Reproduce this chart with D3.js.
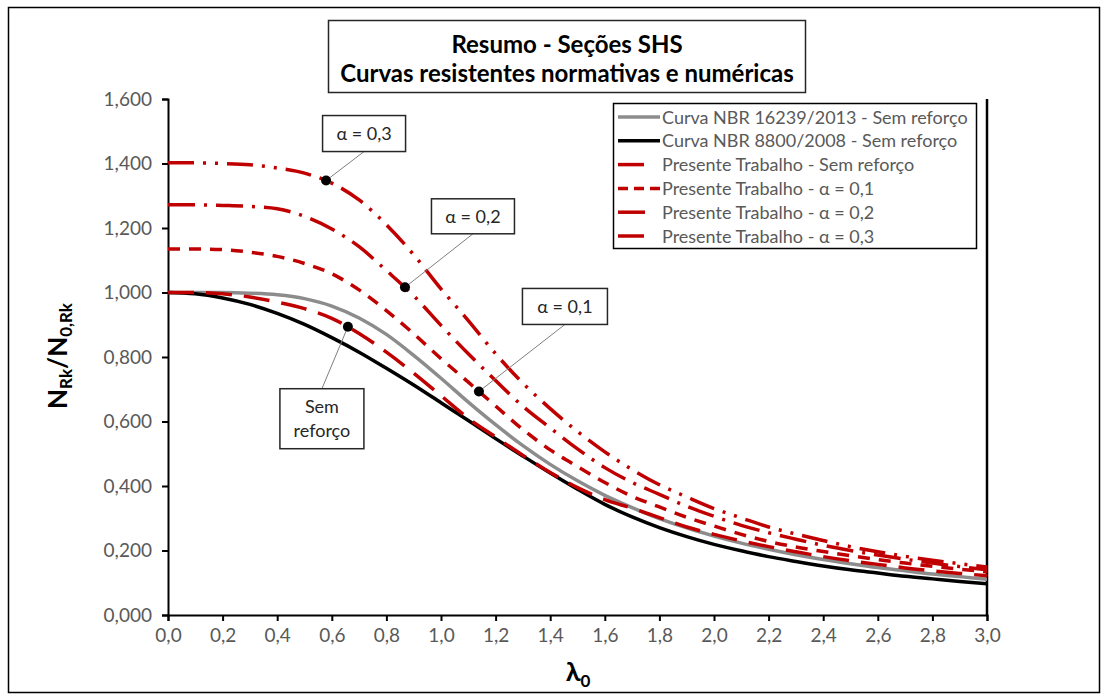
<!DOCTYPE html>
<html>
<head>
<meta charset="utf-8">
<script src="https://cdn.jsdelivr.net/npm/d3@7"></script>
<style>
  html, body { margin: 0; padding: 0; background: #fff; }
  svg { display: block; font-family: Lato, "Open Sans", sans-serif; }
</style>
</head>
<body>
<svg id="chart" width="1108" height="699"></svg>
<script>
// Slenderness values (x) shared by every curve
const lambda0 = [0.0, 0.1, 0.2, 0.3, 0.4, 0.5, 0.6, 0.7, 0.8, 0.9, 1.0,
                 1.1, 1.2, 1.3, 1.4, 1.5, 1.6, 1.7, 1.8, 1.9, 2.0,
                 2.1, 2.2, 2.3, 2.4, 2.5, 2.6, 2.7, 2.8, 2.9, 3.0];

// Normative curves
const nbr16239 = [1.000, 1.000, 1.000, 0.998, 0.993, 0.981, 0.958, 0.921, 0.870, 0.805, 0.734,
                  0.660, 0.590, 0.525, 0.467, 0.416, 0.371, 0.333, 0.299, 0.270, 0.245,
                  0.223, 0.204, 0.187, 0.172, 0.159, 0.147, 0.137, 0.127, 0.119, 0.111];
const nbr8800  = [1.000, 0.996, 0.983, 0.963, 0.935, 0.901, 0.860, 0.815, 0.765, 0.713, 0.658,
                  0.603, 0.547, 0.493, 0.440, 0.390, 0.343, 0.304, 0.271, 0.243, 0.219,
                  0.199, 0.181, 0.166, 0.152, 0.140, 0.130, 0.120, 0.112, 0.104, 0.097];

// Numerical curves (present work)
const ptSemReforco = [1.000, 1.000, 0.996, 0.986, 0.970, 0.950, 0.920, 0.873, 0.815, 0.750, 0.680,
                      0.610, 0.552, 0.495, 0.442, 0.395, 0.358, 0.331, 0.302, 0.273, 0.250,
                      0.230, 0.212, 0.196, 0.181, 0.168, 0.157, 0.146, 0.137, 0.129, 0.122];
const ptAlpha01 = [1.135, 1.135, 1.133, 1.125, 1.112, 1.090, 1.058, 1.008, 0.944, 0.872, 0.795,
                   0.722, 0.648, 0.575, 0.512, 0.460, 0.411, 0.368, 0.335, 0.303, 0.276,
                   0.250, 0.228, 0.211, 0.197, 0.184, 0.172, 0.161, 0.151, 0.142, 0.134];
const ptAlpha02 = [1.272, 1.272, 1.270, 1.267, 1.260, 1.236, 1.197, 1.142, 1.068, 0.990, 0.898,
                   0.810, 0.727, 0.647, 0.580, 0.515, 0.457, 0.411, 0.374, 0.337, 0.306,
                   0.278, 0.255, 0.235, 0.216, 0.200, 0.186, 0.173, 0.161, 0.150, 0.140];
const ptAlpha03 = [1.402, 1.402, 1.400, 1.396, 1.386, 1.370, 1.339, 1.287, 1.210, 1.117, 1.011,
                   0.913, 0.810, 0.719, 0.640, 0.569, 0.506, 0.451, 0.404, 0.366, 0.330,
                   0.301, 0.273, 0.251, 0.231, 0.212, 0.196, 0.182, 0.170, 0.159, 0.149];

const seriesNames = [
  "Curva NBR 16239/2013 - Sem reforço",
  "Curva NBR 8800/2008 - Sem reforço",
  "Presente Trabalho - Sem reforço",
  "Presente Trabalho - α = 0,1",
  "Presente Trabalho - α = 0,2",
  "Presente Trabalho - α = 0,3"
];

// Axis ticks
const xTicks = [0.0, 0.2, 0.4, 0.6, 0.8, 1.0, 1.2, 1.4, 1.6, 1.8, 2.0, 2.2, 2.4, 2.6, 2.8, 3.0];
const xTickLabels = ["0,0", "0,2", "0,4", "0,6", "0,8", "1,0", "1,2", "1,4", "1,6", "1,8",
                     "2,0", "2,2", "2,4", "2,6", "2,8", "3,0"];
const yTicks = [0.0, 0.2, 0.4, 0.6, 0.8, 1.0, 1.2, 1.4, 1.6];
const yTickLabels = ["0,000", "0,200", "0,400", "0,600", "0,800", "1,000", "1,200", "1,400", "1,600"];

// Callout labels and the slenderness where each one points at its curve
const calloutLabels = [["α = 0,3"], ["α = 0,2"], ["α = 0,1"], ["Sem", "reforço"]];
const calloutLambda = [0.579, 0.868, 1.139, 0.659];
const calloutSeries = [5, 4, 3, 2];

const titleLines = ["Resumo - Seções SHS", "Curvas resistentes normativas e numéricas"];

// ---------------------------------------------------------------------------
const svg = d3.select("#chart");
const W = 1108, H = 699;
const plot = { left: 168, right: 987, top: 99, bottom: 615 };

const x = d3.scaleLinear().domain([0, 3]).range([plot.left, plot.right]);
const y = d3.scaleLinear().domain([0, 1.6]).range([plot.bottom, plot.top]);

// Outer chart frame
svg.append("rect")
  .attr("x", 8.5).attr("y", 7.5).attr("width", W - 17).attr("height", H - 14)
  .attr("fill", "#fff").attr("stroke", "#000").attr("stroke-width", 1.5);

// Series styles
const styles = [
  { color: "#8c8c8c", dash: null,            width: 3.5 },
  { color: "#000000", dash: null,            width: 3.5 },
  { color: "#c00000", dash: "26 12",         width: 3.5 },
  { color: "#c00000", dash: "12 9",          width: 3.5 },
  { color: "#c00000", dash: "27 9 3 9",      width: 3.5 },
  { color: "#c00000", dash: "26 9 3 9 3 9",  width: 3.5 }
];
const allSeries = [nbr16239, nbr8800, ptSemReforco, ptAlpha01, ptAlpha02, ptAlpha03];

// Axes
const gx = svg.append("g")
  .attr("transform", `translate(0,${plot.bottom})`)
  .call(d3.axisBottom(x).tickValues(xTicks)
          .tickFormat((d, i) => xTickLabels[i]).tickSize(6).tickPadding(8));
const gy = svg.append("g")
  .attr("transform", `translate(${plot.left},0)`)
  .call(d3.axisLeft(y).tickValues(yTicks)
          .tickFormat((d, i) => yTickLabels[i]).tickSize(6).tickPadding(10));

[gx, gy].forEach(g => {
  g.select(".domain").attr("stroke", "#000").attr("stroke-width", 2);
  g.selectAll(".tick line").attr("stroke", "#000").attr("stroke-width", 2);
  g.selectAll(".tick text")
    .attr("fill", "#595959")
    .style("font-family", "Lato, 'Open Sans', sans-serif")
    .style("font-size", "19px");
});

// Right border of the plot area
svg.append("line")
  .attr("x1", plot.right).attr("x2", plot.right)
  .attr("y1", plot.top).attr("y2", plot.bottom)
  .attr("stroke", "#000").attr("stroke-width", 2.5);

// Curves
const line = d3.line()
  .x((d, i) => x(lambda0[i]))
  .y(d => y(d))
  .curve(d3.curveMonotoneX);

const curveGroup = svg.append("g");
const paths = allSeries.map((s, k) =>
  curveGroup.append("path")
    .datum(s)
    .attr("d", line)
    .attr("fill", "none")
    .attr("stroke", styles[k].color)
    .attr("stroke-width", styles[k].width)
    .attr("stroke-dasharray", styles[k].dash)
    .attr("stroke-linecap", "butt")
    .attr("stroke-linejoin", "round")
);

// Point on a rendered path at a given pixel x (binary search on length)
function pointAtX(pathNode, px) {
  let lo = 0, hi = pathNode.getTotalLength();
  for (let it = 0; it < 40; it++) {
    const mid = (lo + hi) / 2;
    const p = pathNode.getPointAtLength(mid);
    if (p.x < px) lo = mid; else hi = mid;
  }
  return pathNode.getPointAtLength((lo + hi) / 2);
}

// Title box
const titleG = svg.append("g");
titleG.append("rect")
  .attr("x", 328.5).attr("y", 20.5).attr("width", 477).attr("height", 72)
  .attr("fill", "#fff").attr("stroke", "#262626").attr("stroke-width", 1.5);
titleG.selectAll("text").data(titleLines).join("text")
  .attr("x", 567).attr("y", (d, i) => 53 + i * 29)
  .attr("text-anchor", "middle")
  .attr("font-weight", "bold").attr("font-size", 24).attr("fill", "#000")
  .text(d => d);

// Axis titles
const yTitle = svg.append("text")
  .attr("transform", "translate(67,356) rotate(-90)")
  .attr("text-anchor", "middle")
  .attr("font-weight", "bold").attr("font-size", 26).attr("fill", "#000");
yTitle.append("tspan").text("N");
yTitle.append("tspan").attr("font-size", 17).attr("dy", 5).text("Rk");
yTitle.append("tspan").attr("dy", -5).text("/N");
yTitle.append("tspan").attr("font-size", 17).attr("dy", 5).text("0,Rk");

const xTitle = svg.append("text")
  .attr("x", 578).attr("y", 681)
  .attr("text-anchor", "middle")
  .attr("font-weight", "bold").attr("font-size", 27).attr("fill", "#000");
xTitle.append("tspan").text("λ");
xTitle.append("tspan").attr("font-size", 17).attr("dy", 6).text("0");

// Legend
const legend = svg.append("g");
legend.append("rect")
  .attr("x", 613.5).attr("y", 103.5).attr("width", 363).attr("height", 145)
  .attr("fill", "#fff").attr("stroke", "#000").attr("stroke-width", 1.5);
seriesNames.forEach((name, k) => {
  const cy = 117 + k * 23.8;
  const solid = styles[k].dash === null;
  const len = solid ? 42 : (k === 3 ? 42 : 27);
  legend.append("line")
    .attr("x1", 618).attr("x2", 618 + len)
    .attr("y1", cy).attr("y2", cy)
    .attr("stroke", styles[k].color)
    .attr("stroke-width", styles[k].width)
    .attr("stroke-dasharray", k === 3 ? "10 6" : styles[k].dash);
  legend.append("text")
    .attr("x", 662).attr("y", cy + 6.5)
    .attr("font-size", 18).attr("fill", "#595959")
    .text(name);
});

// Callouts: box offset from the marked point (pixels)
const calloutBoxes = [
  { dx: 38,  dy: -47, w: 83, h: 36, anchor: "bottom" },
  { dx: 68,  dy: -71, w: 83, h: 35, anchor: "bottom" },
  { dx: 86,  dy: -85, w: 85, h: 36, anchor: "bottom" },
  { dx: -26, dy: 92,  w: 84, h: 60, anchor: "top" }
];
const callG = svg.append("g");
calloutLabels.forEach((lines, k) => {
  const p = pointAtX(paths[calloutSeries[k]].node(), x(calloutLambda[k]));
  const b = calloutBoxes[k];
  const cx = p.x + b.dx, cy = p.y + b.dy;
  const ax = cx, ay = b.anchor === "bottom" ? cy + b.h / 2 : cy - b.h / 2;
  callG.append("line")
    .attr("x1", p.x).attr("y1", p.y).attr("x2", ax).attr("y2", ay)
    .attr("stroke", "#7f7f7f").attr("stroke-width", 1);
  callG.append("rect")
    .attr("x", cx - b.w / 2).attr("y", cy - b.h / 2)
    .attr("width", b.w).attr("height", b.h)
    .attr("fill", "#fff").attr("stroke", "#262626").attr("stroke-width", 1.5);
  lines.forEach((t, j) => {
    callG.append("text")
      .attr("x", cx).attr("y", cy + 6.5 + (j - (lines.length - 1) / 2) * 24)
      .attr("text-anchor", "middle")
      .attr("font-size", 18).attr("fill", "#262626")
      .text(t);
  });
  callG.append("circle")
    .attr("cx", p.x).attr("cy", p.y).attr("r", 5)
    .attr("fill", "#000");
});
</script>
</body>
</html>
